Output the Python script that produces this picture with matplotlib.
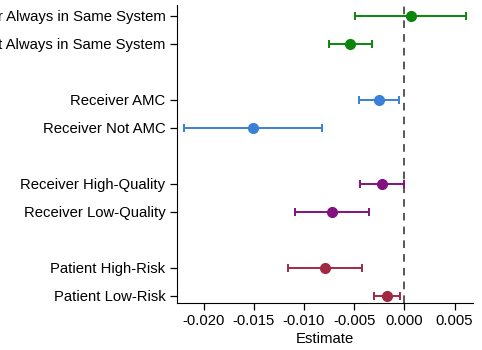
import matplotlib.pyplot as plt
import numpy as np

plt.rcParams['font.family'] = ['Liberation Sans', 'DejaVu Sans']
plt.rcParams['font.size'] = 10.7

labels = ['Receiver Always in Same System', 'Receiver Not Always in Same System',
          'Receiver AMC', 'Receiver Not AMC',
          'Receiver High-Quality', 'Receiver Low-Quality',
          'Patient High-Risk', 'Patient Low-Risk']
estimates = [0.00064, -0.00538, -0.00252, -0.01504, -0.00225, -0.00723, -0.00790, -0.00172]
ci_low = [-0.00491, -0.00747, -0.00451, -0.02191, -0.00438, -0.01092, -0.01155, -0.00302]
ci_high = [0.00614, -0.00325, -0.00050, -0.00817, 0.00000, -0.00355, -0.00418, -0.00043]
groups = [0, 0, 1, 1, 2, 2, 3, 3]
group_colors = ['#0a870a', '#3a80d6', '#82107f', '#a02a42']

# rows in pairs, with an empty row between groups
ypos = np.array([i + g for i, g in enumerate(groups)])

fig = plt.figure(figsize=(4.82, 3.5), dpi=100)
ax = fig.add_axes([0.3666, 0.1343, 0.6148, 0.8514])

ax.axvline(0, color='#2a2a2a', linestyle=(0, (5, 4)), linewidth=1.1, zorder=1)

for y, est, lo, hi, g in zip(ypos, estimates, ci_low, ci_high, groups):
    ax.errorbar(est, y, xerr=[[est - lo], [hi - est]], fmt='o', color=group_colors[g],
                markersize=7, elinewidth=1.4, capsize=3, capthick=1.4, zorder=2)

ax.set_yticks(ypos)
ax.set_yticklabels(labels)
ax.set_ylim(10.26, -0.39)
ax.set_xlim(-0.02267, 0.00684)
ax.set_xticks([-0.020, -0.015, -0.010, -0.005, 0.000, 0.005])
ax.set_xticklabels(['-%.3f' % abs(v) if v < 0 else '%.3f' % v for v in ax.get_xticks()])
ax.set_xlabel('Estimate', labelpad=3)

ax.spines['top'].set_visible(False)
ax.spines['right'].set_visible(False)
ax.tick_params(direction='out', length=5, width=0.9, labelsize=10.7, pad=3)

fig.savefig('out.png', dpi=100)
